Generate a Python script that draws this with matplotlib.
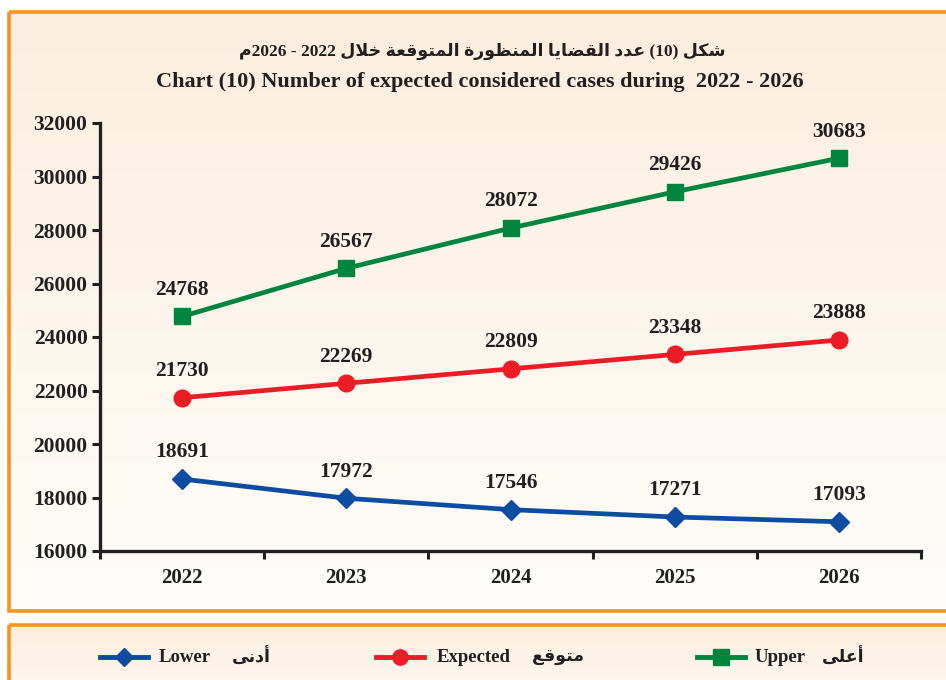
import numpy as np
import matplotlib
matplotlib.use("Agg")
import matplotlib.pyplot as plt
from matplotlib.patches import Rectangle
from matplotlib.lines import Line2D

# ---------------- data ----------------
years = ["2022", "2023", "2024", "2025", "2026"]
upper = [24768, 26567, 28072, 29426, 30683]
expected = [21730, 22269, 22809, 23348, 23888]
lower = [18691, 17972, 17546, 17271, 17093]
y_ticks = [16000, 18000, 20000, 22000, 24000, 26000, 28000, 30000, 32000]

title_en = "Chart (10) Number of expected considered cases during  2022 - 2026"
legend_en = ["Lower", "Expected", "Upper"]
legend_ar = ["أدنى", "متوقع", "أعلى"]

# ---------------- minimal Arabic shaping ----------------
FORMS = {
    'ا': (0xFE8D, 0xFE8E, None, None), 'أ': (0xFE83, 0xFE84, None, None),
    'ت': (0xFE95, 0xFE96, 0xFE97, 0xFE98), 'ة': (0xFE93, 0xFE94, None, None),
    'خ': (0xFEA5, 0xFEA6, 0xFEA7, 0xFEA8), 'د': (0xFEA9, 0xFEAA, None, None),
    'ر': (0xFEAD, 0xFEAE, None, None), 'ش': (0xFEB5, 0xFEB6, 0xFEB7, 0xFEB8),
    'ض': (0xFEBD, 0xFEBE, 0xFEBF, 0xFEC0), 'ظ': (0xFEC5, 0xFEC6, 0xFEC7, 0xFEC8),
    'ع': (0xFEC9, 0xFECA, 0xFECB, 0xFECC), 'ق': (0xFED5, 0xFED6, 0xFED7, 0xFED8),
    'ك': (0xFED9, 0xFEDA, 0xFEDB, 0xFEDC), 'ل': (0xFEDD, 0xFEDE, 0xFEDF, 0xFEE0),
    'م': (0xFEE1, 0xFEE2, 0xFEE3, 0xFEE4), 'ن': (0xFEE5, 0xFEE6, 0xFEE7, 0xFEE8),
    'و': (0xFEED, 0xFEEE, None, None), 'ى': (0xFEEF, 0xFEF0, None, None),
    'ي': (0xFEF1, 0xFEF2, 0xFEF3, 0xFEF4),
}


def shape_word(w):
    # returns visual (left-to-right) string of an Arabic word
    chars = list(w)
    out = []
    i = 0
    n = len(chars)

    def dual(c):
        return c in FORMS and FORMS[c][2] is not None

    while i < n:
        c = chars[i]
        prev_join = i > 0 and dual(chars[i - 1])
        if c == 'ل' and i + 1 < n and chars[i + 1] in ('ا', 'أ'):
            if chars[i + 1] == 'ا':
                out.append(chr(0xFEFC if prev_join else 0xFEFB))
            else:
                out.append(chr(0xFEF8 if prev_join else 0xFEF7))
            i += 2
            continue
        iso, fin, ini, med = FORMS[c]
        next_join = dual(c) and i + 1 < n and chars[i + 1] in FORMS
        if prev_join and next_join:
            g = med
        elif prev_join:
            g = fin
        elif next_join:
            g = ini
        else:
            g = iso
        out.append(chr(g))
        i += 1
    return ''.join(reversed(out))


title_ar_visual = (shape_word("م") + "2026 - 2022 " + shape_word("خلال") + " "
                   + shape_word("المتوقعة") + " " + shape_word("المنظورة") + " "
                   + shape_word("القضايا") + " " + shape_word("عدد") + " (10) "
                   + shape_word("شكل"))

# ---------------- figure ----------------
W, H = 946, 680
fig = plt.figure(figsize=(W / 100, H / 100), dpi=100)
fig.patch.set_facecolor("white")
fonts = ["Liberation Serif", "DejaVu Sans"]
ink = "#231F20"

bg = fig.add_axes([0, 0, 1, 1], zorder=-1)
bg.set_xlim(0, W)
bg.set_ylim(H, 0)
bg.axis("off")

c_top = np.array([252, 238, 222]) / 255
c_bot = np.array([254, 253, 250]) / 255
grad = np.linspace(0, 1, 256)[:, None, None]
img = c_top[None, None, :] * (1 - grad) + c_bot[None, None, :] * grad

orange = "#F7941D"
bg.imshow(img, extent=[8, W + 5, 611, 12], aspect="auto", interpolation="bilinear")
bg.add_patch(Rectangle((9, 12), W, 599, fill=False, edgecolor=orange, lw=2.6))
bg.imshow(img, extent=[8, W + 5, H + 40, 625], aspect="auto", interpolation="bilinear")
bg.add_patch(Rectangle((9, 625), W, 80, fill=False, edgecolor=orange, lw=2.6))
bg.set_xlim(0, W)
bg.set_ylim(H, 0)

# titles
bg.text(482, 51, title_ar_visual, ha="center", va="center", fontsize=12.5,
        fontweight="bold", family=fonts, color=ink)
bg.text(480, 82, title_en, ha="center", va="center", fontsize=16,
        fontweight="bold", family=fonts, color=ink)

# ---------------- main axes ----------------
left, right, top, bottom = 100, 921, 123, 551
ax = fig.add_axes([left / W, 1 - bottom / H, (right - left) / W, (bottom - top) / H])
ax.patch.set_alpha(0)

x = np.arange(len(years))
green, red, blue = "#00853F", "#EC1C24", "#0C4DA2"
ax.plot(x, upper, color=green, lw=3.4, marker="s", ms=12, zorder=3, clip_on=False)
ax.plot(x, expected, color=red, lw=3.4, marker="o", ms=12, zorder=3, clip_on=False)
ax.plot(x, lower, color=blue, lw=3.4, marker="D", ms=10, zorder=3, clip_on=False)

for series in (upper, expected, lower):
    for xi, v in zip(x, series):
        ax.annotate(f"{v}", (xi, v), xytext=(0, 12), textcoords="offset points",
                    ha="center", va="bottom", fontsize=15.5, fontweight="bold",
                    family=fonts, color=ink)

ax.set_xlim(-0.5, len(years) - 0.5)
ax.set_ylim(y_ticks[0], y_ticks[-1])
ax.set_yticks(y_ticks)
ax.set_yticklabels([str(t) for t in y_ticks], fontsize=15.5, fontweight="bold",
                   family=fonts, color=ink)
ax.set_xticks(x)
ax.set_xticklabels(years, fontsize=15, fontweight="bold", family=fonts, color=ink)
ax.tick_params(axis="x", which="major", length=0, pad=12)
ax.set_xticks(np.arange(-0.5, len(years)), minor=True)
ax.tick_params(axis="x", which="minor", length=6, width=2.2, direction="out", color=ink)
ax.tick_params(axis="y", length=6, width=2.2, direction="out", color=ink, pad=3)
for s in ("top", "right"):
    ax.spines[s].set_visible(False)
for s in ("left", "bottom"):
    ax.spines[s].set_linewidth(2.4)
    ax.spines[s].set_color(ink)

# ---------------- legend ----------------
ly = 657
items = [
    (blue, "D", 9, 100, 148, 159, 232),
    (red, "o", 11, 376, 424, 437, 532),
    (green, "s", 11, 697, 745, 755, 822),
]
for (col, mk, ms, x0, x1, tx_en, tx_ar), en, ar in zip(items, legend_en, legend_ar):
    bg.add_line(Line2D([x0, x1], [ly, ly], color=col, lw=3.5))
    bg.add_line(Line2D([(x0 + x1) / 2], [ly], color=col, marker=mk, ms=ms, lw=0))
    bg.text(tx_en, ly, en, ha="left", va="center", fontsize=13.5, fontweight="bold",
            family=fonts, color=ink)
    bg.text(tx_ar, ly, shape_word(ar), ha="left", va="center", fontsize=12.5,
            fontweight="bold", family=fonts, color=ink)

fig.savefig("out.png", dpi=100)
